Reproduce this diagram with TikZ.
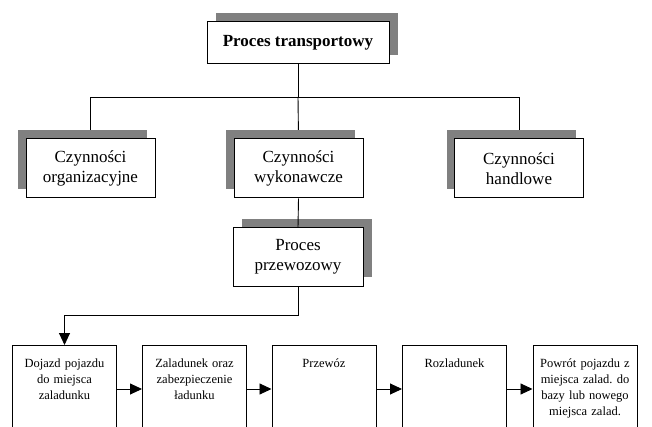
\documentclass[tikz,border=0pt]{standalone}
\usepackage{fontspec}
\setmainfont{Liberation Serif}
\usetikzlibrary{arrows.meta,positioning,shadows,backgrounds}

\begin{document}
\begin{tikzpicture}[x=1pt, y=-1pt,
  group/.style={draw, line width=1pt, fill=white, minimum width=129pt, minimum height=59pt,
                align=center, font=\fontsize{17}{20}\selectfont, inner sep=2pt},
  shadowright/.style={drop shadow={shadow xshift=9pt, shadow yshift=9pt, fill=black!50, opacity=1}},
  shadowleft/.style={drop shadow={shadow xshift=-8pt, shadow yshift=9pt, fill=black!50, opacity=1}},
  stage/.style={draw, line width=1pt, fill=white, anchor=north, minimum width=104pt, text width=96pt,
                align=center, font=\fontsize{12.5}{16}\selectfont, inner xsep=3pt, inner ysep=4pt,
                text height=18pt, text depth=61pt},
  conn/.style={line width=0.9pt},
  arr/.style={-{Triangle[length=12pt,width=11pt]}, line width=0.9pt}
]
  \useasboundingbox (0,0) rectangle (652,427);

  \node[group, shadowright, minimum width=182pt, minimum height=42pt, font=\fontsize{17}{20}\selectfont\bfseries]
    (proc) at (298,43) {Proces transportowy};

  \node[group, shadowleft] (org) at (90.5,168.5) {Czynności\\organizacyjne};
  \node[group, shadowleft] (wyk) at (298.5,168.5) {Czynności\\wykonawcze};
  \node[group, shadowleft] (han) at (519,168.5) {Czynności\\handlowe};

  \node[group, shadowright, minimum width=130pt, minimum height=58pt] (przew) at (298,257)
    {Proces\\przewozowy};

  \node[stage] (dojazd) at (64.5,345)  {Dojazd pojazdu\\do miejsca\\zaladunku};
  \node[stage] (zalad)  at (194.5,345) {Zaladunek oraz\\zabezpieczenie\\ładunku};
  \node[stage] (przewoz) at (324,345)  {Przewóz};
  \node[stage] (rozlad) at (454.5,345) {Rozladunek};
  \node[stage] (powrot) at (585,345)   {Powrót pojazdu z\\miejsca zalad.\ do\\bazy lub nowego\\miejsca zalad.};

  \coordinate (split) at (298,97);
  \coordinate (turn) at (298,315);

  \begin{scope}[on background layer]
    \draw[conn] (proc.south) -- (split);
    \draw[conn] (org.north) -- (org.north |- split) -- (han.north |- split) -- (han.north);
    \draw[conn] (split) -- (wyk.north);
  \end{scope}

  \draw[conn] (wyk.south) -- (przew.north);
  \draw[arr] (przew.south) -- (turn) -| (dojazd.north);
  \draw[arr] (dojazd) -- (zalad);
  \draw[arr] (zalad) -- (przewoz);
  \draw[arr] (przewoz) -- (rozlad);
  \draw[arr] (rozlad) -- (powrot);
\end{tikzpicture}
\end{document}
